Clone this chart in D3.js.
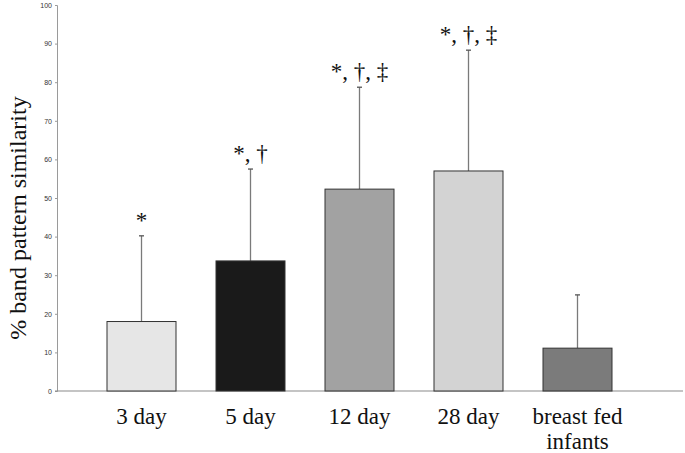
<!DOCTYPE html>
<html>
<head>
<meta charset="utf-8">
<script src="https://cdn.jsdelivr.net/npm/d3@7"></script>
<style>
  html, body { margin: 0; padding: 0; background: #fff; }
  svg { display: block; }
</style>
</head>
<body>
<svg id="chart" width="685" height="453"></svg>
<script>
const categories = ["3 day", "5 day", "12 day", "28 day", "breast fed infants"];
const labelLines = [["3 day"], ["5 day"], ["12 day"], ["28 day"], ["breast fed", "infants"]];
const means = [18, 33.7, 52.3, 57.0, 11.1];
const sds = [22.2, 23.8, 26.4, 31.3, 13.8];
const annotations = ["*", "*, \u2020", "*, \u2020, \u2021", "*, \u2020, \u2021", ""];
const barColors = ["#e6e6e6", "#1a1a1a", "#a2a2a2", "#d3d3d3", "#7b7b7b"];
const yTicks = [0, 10, 20, 30, 40, 50, 60, 70, 80, 90, 100];

const svg = d3.select("#chart");
const axisX = 57;

const y = d3.scaleLinear().domain([0, 100]).range([391, 5]);
const x = d3.scaleBand().domain(categories).range([67, 652]).paddingInner(0.367).paddingOuter(0.367);

// Y axis
const yAxis = d3.axisLeft(y).tickValues(yTicks).tickSize(2).tickPadding(3);
const gy = svg.append("g").attr("transform", `translate(${axisX},0)`).call(yAxis);
gy.select(".domain").attr("stroke", "#9a9a9a").attr("stroke-width", 1);
gy.selectAll(".tick line").attr("stroke", "#9a9a9a");
gy.selectAll(".tick text")
  .attr("font-family", "Liberation Sans, Arial, sans-serif")
  .attr("font-size", 7)
  .attr("fill", "#333");

// baseline
svg.append("line")
  .attr("x1", axisX - 2).attr("x2", 683)
  .attr("y1", y(0)).attr("y2", y(0))
  .attr("stroke", "#8a8a8a").attr("stroke-width", 1.2);

// error bars
const eb = svg.append("g");
categories.forEach((c, i) => {
  const cx = x(c) + x.bandwidth() / 2;
  eb.append("line")
    .attr("x1", cx).attr("x2", cx)
    .attr("y1", y(means[i])).attr("y2", y(means[i] + sds[i]))
    .attr("stroke", "#7a7a7a").attr("stroke-width", 1.3);
  eb.append("line")
    .attr("x1", cx - 2.5).attr("x2", cx + 2.5)
    .attr("y1", y(means[i] + sds[i])).attr("y2", y(means[i] + sds[i]))
    .attr("stroke", "#555").attr("stroke-width", 1.3);
});

// bars
svg.append("g").selectAll("rect")
  .data(categories)
  .join("rect")
  .attr("x", d => x(d))
  .attr("y", (d, i) => y(means[i]))
  .attr("width", x.bandwidth())
  .attr("height", (d, i) => y(0) - y(means[i]))
  .attr("fill", (d, i) => barColors[i])
  .attr("stroke", "#333")
  .attr("stroke-width", 1);

// annotations
svg.append("g").selectAll("text")
  .data(categories)
  .join("text")
  .attr("x", d => x(d) + x.bandwidth() / 2)
  .attr("y", (d, i) => y(means[i] + sds[i]) - 8)
  .attr("text-anchor", "middle")
  .attr("font-family", "Liberation Serif, Times New Roman, serif")
  .attr("font-size", 23)
  .attr("fill", "#111")
  .text((d, i) => annotations[i]);

// x labels
const xl = svg.append("g");
categories.forEach((c, i) => {
  const cx = x(c) + x.bandwidth() / 2;
  labelLines[i].forEach((line, j) => {
    xl.append("text")
      .attr("x", cx)
      .attr("y", 424 + j * 25)
      .attr("text-anchor", "middle")
      .attr("font-family", "Liberation Serif, Times New Roman, serif")
      .attr("font-size", 23)
      .attr("fill", "#111")
      .text(line);
  });
});

// y label
svg.append("text")
  .attr("transform", `translate(26, ${218}) rotate(-90)`)
  .attr("text-anchor", "middle")
  .attr("font-family", "Liberation Serif, Times New Roman, serif")
  .attr("font-size", 24)
  .attr("fill", "#111")
  .text("% band pattern similarity");
</script>
</body>
</html>
